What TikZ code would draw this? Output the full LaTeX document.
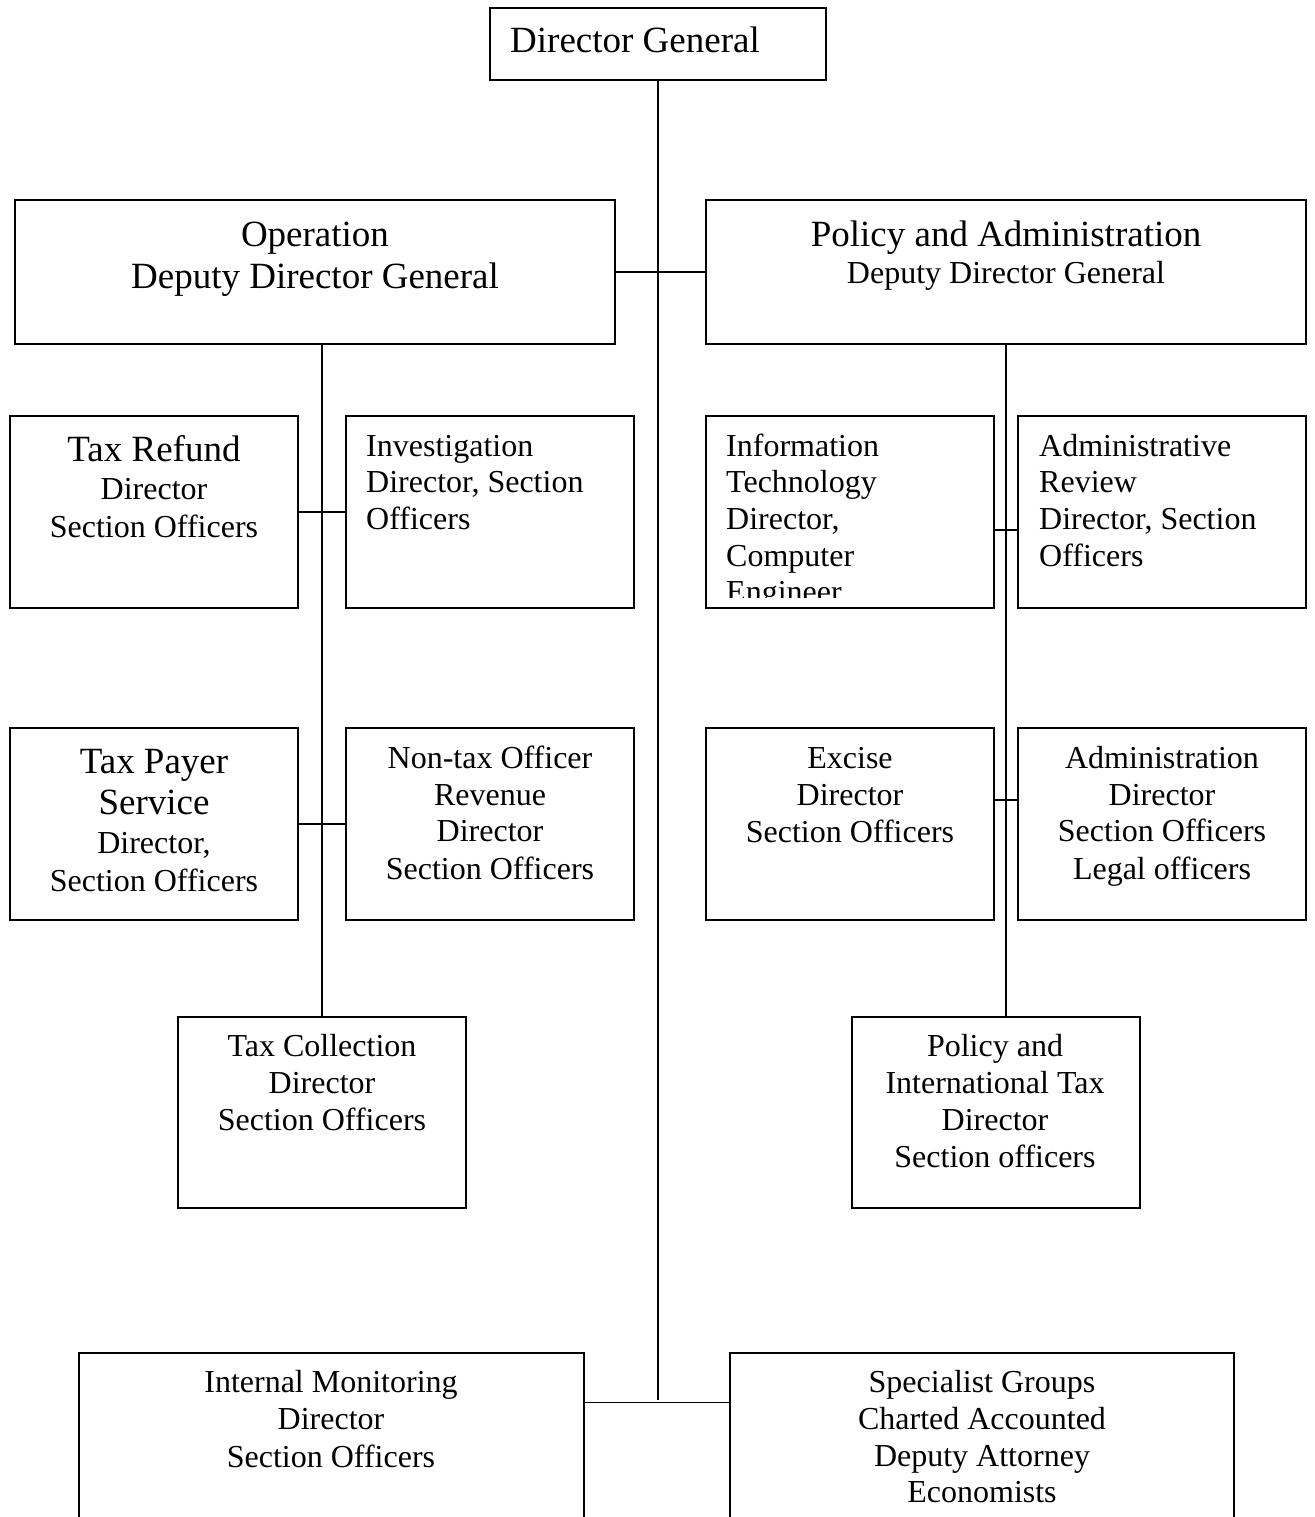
\documentclass[tikz,border=0pt]{standalone}
\usepackage{fontspec}
\setmainfont{Liberation Serif}
\begin{document}
\begin{tikzpicture}[x=1pt,y=-1pt,
  box/.style={draw, line width=1.5pt, rectangle, inner sep=0pt},
  conn/.style={draw, line width=1.5pt},
  big/.style={font=\fontsize{37}{44}\selectfont, inner sep=0pt, anchor=base},
  sm/.style={font=\fontsize{32}{37}\selectfont, inner sep=0pt, anchor=base},
  smL/.style={sm, anchor=base west}]
\clip (0,0) rectangle (1314,1517);
% boxes
\node[box, minimum width=336pt, minimum height=72pt] (dg) at (658,44) {};
\node[box, minimum width=600pt, minimum height=144pt] (op) at (315,272) {};
\node[box, minimum width=600pt, minimum height=144pt] (pol) at (1006,272) {};
\node[box, minimum width=288pt, minimum height=192pt] (tr) at (154,512) {};
\node[box, minimum width=288pt, minimum height=192pt] (inv) at (490,512) {};
\node[box, minimum width=288pt, minimum height=192pt] (tp) at (154,824) {};
\node[box, minimum width=288pt, minimum height=192pt] (nt) at (490,824) {};
\node[box, minimum width=288pt, minimum height=191pt] (tc) at (322,1112.5) {};
\node[box, minimum width=288pt, minimum height=192pt] (it) at (850,512) {};
\node[box, minimum width=288pt, minimum height=192pt] (ar) at (1162,512) {};
\node[box, minimum width=288pt, minimum height=192pt] (ex) at (850,824) {};
\node[box, minimum width=288pt, minimum height=192pt] (adm) at (1162,824) {};
\node[box, minimum width=288pt, minimum height=191pt] (pit) at (996,1112.5) {};
\node[box, minimum width=505pt, minimum height=247pt] (im) at (331.5,1476.5) {};
\node[box, minimum width=504pt, minimum height=247pt] (sg) at (982,1476.5) {};
\coordinate (tend) at (658,1400);
% connectors
\draw[conn] (dg.south) -- (tend);
\draw[conn] (op.east) -- (pol.west);
\draw[conn] (tc.north |- op.south) -- (tc.north);
\draw[conn] (tr.east) -- (inv.west);
\draw[conn] (tp.east) -- (nt.west);
\draw[conn] (pol.south) -- (pit.north -| pol.south);
\draw[conn] ([yshift=-18pt]it.east) -- ([yshift=-18pt]ar.west);
\draw[conn] ([yshift=24pt]ex.east) -- ([yshift=24pt]adm.west);
\draw[conn] ([yshift=-50pt]im.north east) -- ([yshift=-50pt]sg.north west);
% texts
\node[big, anchor=base west] (dgt) at (510,53) {Director General};
\node[big] (opa) at (315,246) {Operation};
\node[big] (opb) at (315,288) {Deputy Director General};
\node[big] (pola) at (1006,246) {Policy and Administration};
\node[sm] (polb) at (1006,283) {Deputy Director General};
\node[big] (tra) at (154,461) {Tax Refund};
\node[sm] (trb) at (154,499) {Director};
\node[sm] (trc) at (154,537) {Section Officers};
\node[smL] (inva) at (366,456) {Investigation};
\node[smL] (invb) at (366,492) {Director, Section};
\node[smL] (invc) at (366,529) {Officers};
\node[big] (tpa) at (154,773) {Tax Payer};
\node[big] (tpb) at (154,814) {Service};
\node[sm] (tpc) at (154,853) {Director,};
\node[sm] (tpd) at (154,891) {Section Officers};
\node[sm] (nta) at (490,768) {Non-tax Officer};
\node[sm] (ntb) at (490,805) {Revenue};
\node[sm] (ntc) at (490,841) {Director};
\node[sm] (ntd) at (490,879) {Section Officers};
\node[sm] (tca) at (322,1056) {Tax Collection};
\node[sm] (tcb) at (322,1093) {Director};
\node[sm] (tcc) at (322,1130) {Section Officers};
\begin{scope}
\clip (706,416) rectangle (994,597);
\node[smL] (ita) at (726,456) {Information};
\node[smL] (itb) at (726,492) {Technology};
\node[smL] (itc) at (726,529) {Director,};
\node[smL] (itd) at (726,566) {Computer};
\node[smL] (ite) at (726,602) {Engineer};
\end{scope}
\node[smL] (ara) at (1039,456) {Administrative};
\node[smL] (arb) at (1039,492) {Review};
\node[smL] (arc) at (1039,529) {Director, Section};
\node[smL] (ard) at (1039,566) {Officers};
\node[sm] (exa) at (850,768) {Excise};
\node[sm] (exb) at (850,805) {Director};
\node[sm] (exc) at (850,842) {Section Officers};
\node[sm] (adma) at (1162,768) {Administration};
\node[sm] (admb) at (1162,805) {Director};
\node[sm] (admc) at (1162,841) {Section Officers};
\node[sm] (admd) at (1162,879) {Legal officers};
\node[sm] (pita) at (995,1056) {Policy and};
\node[sm] (pitb) at (995,1093) {International Tax};
\node[sm] (pitc) at (995,1130) {Director};
\node[sm] (pitd) at (995,1167) {Section officers};
\node[sm] (ima) at (331,1392) {Internal Monitoring};
\node[sm] (imb) at (331,1429) {Director};
\node[sm] (imc) at (331,1467) {Section Officers};
\node[sm] (sga) at (982,1392) {Specialist Groups};
\node[sm] (sgb) at (982,1429) {Charted Accounted};
\node[sm] (sgc) at (982,1466) {Deputy Attorney};
\node[sm] (sgd) at (982,1502) {Economists};
\end{tikzpicture}
\end{document}
